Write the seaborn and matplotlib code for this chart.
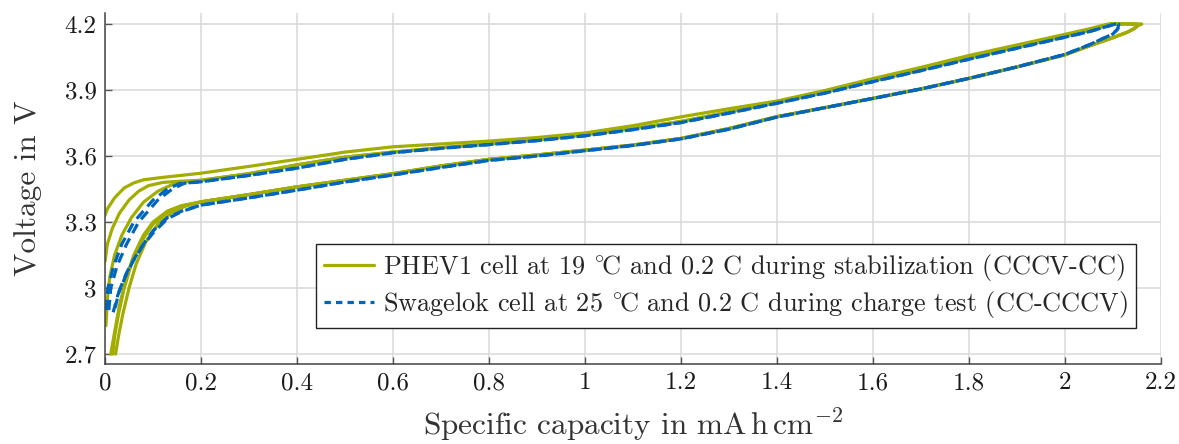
import matplotlib
matplotlib.use("Agg")
import matplotlib.pyplot as plt
import seaborn as sns
import pandas as pd
from matplotlib.lines import Line2D
from matplotlib.ticker import FixedLocator, FuncFormatter

# ---------------- data ----------------
series_names = ["PHEV1 cell at 19 $^{\\circ}\\!$C and 0.2 C during stabilization (CCCV-CC)",
                "Swagelok cell at 25 $^{\\circ}\\!$C and 0.2 C during charge test (CC-CCCV)"]

# PHEV1 cycle 1 (first charge from 3.33 V)
phev_c1_x = [0.0, 0.005, 0.02, 0.04, 0.06, 0.08, 0.12, 0.2, 0.3, 0.4, 0.5, 0.6, 0.7, 0.8, 0.9, 1.0,
             1.1, 1.2, 1.3, 1.4, 1.5, 1.6, 1.7, 1.8, 1.9, 2.0, 2.05, 2.09, 2.16]
phev_c1_v = [3.33, 3.36, 3.41, 3.455, 3.478, 3.492, 3.503, 3.522, 3.553, 3.585, 3.618, 3.642, 3.655,
             3.668, 3.684, 3.705, 3.738, 3.778, 3.815, 3.85, 3.898, 3.952, 4.003, 4.057, 4.105, 4.153,
             4.178, 4.2, 4.2]

# PHEV1 later charges: heads and common upper branch
phev_head2_x = [0.0, 0.005, 0.015, 0.03, 0.05, 0.07, 0.09, 0.12, 0.16]
phev_head2_v = [3.12, 3.2, 3.27, 3.34, 3.4, 3.44, 3.465, 3.48, 3.486]
phev_head3_x = [0.002, 0.005, 0.01, 0.02, 0.035, 0.055, 0.08, 0.11, 0.14, 0.17]
phev_head3_v = [2.83, 2.95, 3.05, 3.15, 3.24, 3.32, 3.39, 3.44, 3.47, 3.483]
phev_up_x = [0.2, 0.3, 0.4, 0.5, 0.6, 0.7, 0.8, 0.9, 1.0, 1.1, 1.2, 1.3, 1.4, 1.5, 1.6, 1.7, 1.8,
             1.9, 2.0, 2.05, 2.095]
phev_up_v = [3.49, 3.52, 3.56, 3.595, 3.618, 3.638, 3.655, 3.673, 3.697, 3.725, 3.757, 3.80, 3.843,
             3.89, 3.942, 3.992, 4.045, 4.095, 4.145, 4.17, 4.2]
phev_cv2_x = [2.15]
phev_cv2_v = [4.2]
phev_cv3_x = [2.14]
phev_cv3_v = [4.2]

# PHEV1 discharge: common lower branch and tails
phev_low_x = [2.15, 2.145, 2.13, 2.1, 2.05, 2.0, 1.9, 1.8, 1.7, 1.6, 1.5, 1.4, 1.3, 1.2, 1.1, 1.0,
              0.9, 0.8, 0.7, 0.6, 0.5, 0.4, 0.3, 0.2]
phev_low_v = [4.19, 4.18, 4.163, 4.138, 4.1, 4.06, 4.005, 3.953, 3.905, 3.862, 3.82, 3.779, 3.725,
              3.68, 3.65, 3.627, 3.605, 3.585, 3.555, 3.52, 3.49, 3.46, 3.425, 3.392]
phev_tail1_x = [0.16, 0.13, 0.1, 0.08, 0.06, 0.045, 0.03, 0.02, 0.012]
phev_tail1_v = [3.375, 3.35, 3.30, 3.24, 3.15, 3.05, 2.92, 2.8, 2.7]
phev_tail2_x = [0.16, 0.13, 0.1, 0.075, 0.055, 0.04, 0.028, 0.02, 0.016]
phev_tail2_v = [3.372, 3.345, 3.29, 3.21, 3.11, 3.0, 2.88, 2.78, 2.7]
phev_tail3_x = [0.165, 0.14, 0.11, 0.085, 0.065, 0.05, 0.037, 0.028, 0.022]
phev_tail3_v = [3.37, 3.345, 3.29, 3.21, 3.11, 3.0, 2.88, 2.78, 2.7]

# Swagelok cycles
swg_head1_x = [0.003, 0.006, 0.018, 0.035, 0.06, 0.1, 0.13, 0.155]
swg_head1_v = [2.9, 3.0, 3.1, 3.2, 3.3, 3.4, 3.45, 3.475]
swg_head2_x = [0.008, 0.012, 0.025, 0.045, 0.07, 0.11, 0.14, 0.165]
swg_head2_v = [2.9, 3.0, 3.1, 3.2, 3.3, 3.4, 3.45, 3.476]
swg_up_x = [0.2, 0.3, 0.4, 0.5, 0.6, 0.7, 0.8, 0.9, 1.0, 1.1, 1.2, 1.3, 1.4, 1.5, 1.6, 1.7, 1.8,
            1.9, 2.0, 2.05, 2.105, 2.112]
swg_up_v = [3.483, 3.512, 3.545, 3.585, 3.615, 3.635, 3.652, 3.67, 3.692, 3.72, 3.752, 3.795, 3.84,
            3.886, 3.938, 3.988, 4.04, 4.09, 4.14, 4.165, 4.2, 4.2]
swg_low_x = [2.11, 2.1, 2.05, 2.0, 1.9, 1.8, 1.7, 1.6, 1.5, 1.4, 1.3, 1.2, 1.1, 1.0, 0.9, 0.8, 0.7,
             0.6, 0.5, 0.4, 0.3, 0.2]
swg_low_v = [4.178, 4.155, 4.105, 4.062, 4.005, 3.953, 3.905, 3.862, 3.82, 3.777, 3.722, 3.678,
             3.648, 3.624, 3.6, 3.58, 3.548, 3.514, 3.482, 3.445, 3.41, 3.377]
swg_tail1_x = [0.16, 0.13, 0.1, 0.08, 0.06, 0.045, 0.03, 0.021]
swg_tail1_v = [3.35, 3.32, 3.26, 3.2, 3.13, 3.07, 2.99, 2.91]
swg_tail2_x = [0.16, 0.13, 0.1, 0.078, 0.058, 0.042, 0.027, 0.017]
swg_tail2_v = [3.348, 3.315, 3.25, 3.19, 3.12, 3.05, 2.97, 2.89]

x_ticks = [0, 0.2, 0.4, 0.6, 0.8, 1.0, 1.2, 1.4, 1.6, 1.8, 2.0, 2.2]
y_ticks = [2.7, 3.0, 3.3, 3.6, 3.9, 4.2]

x_label = "Specific capacity in $\\mathrm{mA\\,h\\,cm^{-2}}$"
y_label = "Voltage in V"

olive = "#A2AD00"
blue = "#0065BD"

# ---------------- assemble curves ----------------
curves = []
def add(series, cycle, parts):
    xs, vs = [], []
    for px, pv in parts:
        xs += px
        vs += pv
    for i, (a, b) in enumerate(zip(xs, vs)):
        curves.append({"x": a, "V": b, "series": series, "cycle": cycle, "order": i})

add(0, 0, [(phev_c1_x, phev_c1_v), (phev_low_x, phev_low_v), (phev_tail1_x, phev_tail1_v)])
add(0, 1, [(phev_head2_x, phev_head2_v), (phev_up_x, phev_up_v), (phev_cv2_x, phev_cv2_v),
           (phev_low_x, phev_low_v), (phev_tail2_x, phev_tail2_v)])
add(0, 2, [(phev_head3_x, phev_head3_v), (phev_up_x, phev_up_v), (phev_cv3_x, phev_cv3_v),
           (phev_low_x, phev_low_v), (phev_tail3_x, phev_tail3_v)])
add(1, 3, [(swg_head1_x, swg_head1_v), (swg_up_x, swg_up_v), (swg_low_x, swg_low_v),
           (swg_tail1_x, swg_tail1_v)])
add(1, 4, [(swg_head2_x, swg_head2_v), (swg_up_x, swg_up_v), (swg_low_x, swg_low_v),
           (swg_tail2_x, swg_tail2_v)])
df = pd.DataFrame(curves)

# ---------------- style ----------------
sns.set_theme(style="white")
plt.rcParams["font.family"] = ["cmr10", "DejaVu Serif"]
plt.rcParams["mathtext.fontset"] = "cm"
plt.rcParams["axes.formatter.use_mathtext"] = True

fig = plt.figure(figsize=(11.79, 4.44), dpi=100)
ax = fig.add_axes([105 / 1179, 80 / 444, 1056 / 1179, 351 / 444])

lw = 2.3
for cyc, sub in df.groupby("cycle"):
    s = sub["series"].iloc[0]
    if s == 0:
        sns.lineplot(data=sub, x="x", y="V", sort=False, estimator=None, ax=ax,
                     color=olive, linewidth=lw, legend=False)
    else:
        sns.lineplot(data=sub, x="x", y="V", sort=False, estimator=None, ax=ax,
                     color=blue, linewidth=lw, legend=False, dashes=False)
        ax.lines[-1].set_dashes((3.2, 1.9))

ax.set_xlim(0, 2.2)
ax.set_ylim(2.655, 4.25)
ax.xaxis.set_major_locator(FixedLocator(x_ticks))
ax.yaxis.set_major_locator(FixedLocator(y_ticks))
fmt = FuncFormatter(lambda v, p: "%g" % round(v, 2))
ax.xaxis.set_major_formatter(fmt)
ax.yaxis.set_major_formatter(fmt)

ax.grid(True, color="#d9d9d9", linewidth=1.1)
ax.set_axisbelow(True)
for side in ["top", "right"]:
    ax.spines[side].set_visible(False)
for side in ["left", "bottom"]:
    ax.spines[side].set_color("#444444")
    ax.spines[side].set_linewidth(1.1)
ax.tick_params(axis="both", direction="in", length=5, width=1.0, color="#555555",
               labelsize=18, left=True, bottom=True, pad=6, labelcolor="#1a1a1a")

ax.set_xlabel(x_label, fontsize=22.5, color="#333333", labelpad=8)
ax.set_ylabel(y_label, fontsize=22.5, color="#333333", labelpad=16)

handles = [Line2D([], [], color=olive, linewidth=lw),
           Line2D([], [], color=blue, linewidth=lw, dashes=(2.0, 1.6))]
leg = ax.legend(handles, series_names, loc="lower right", bbox_to_anchor=(0.976, 0.103),
                borderaxespad=0, fontsize=18.9, frameon=True, fancybox=False, edgecolor="#222222",
                framealpha=1, handlelength=1.9, handletextpad=0.35, labelspacing=0.22,
                borderpad=0.3)
leg.get_frame().set_linewidth(1.0)

fig.savefig("out.png", dpi=100)
